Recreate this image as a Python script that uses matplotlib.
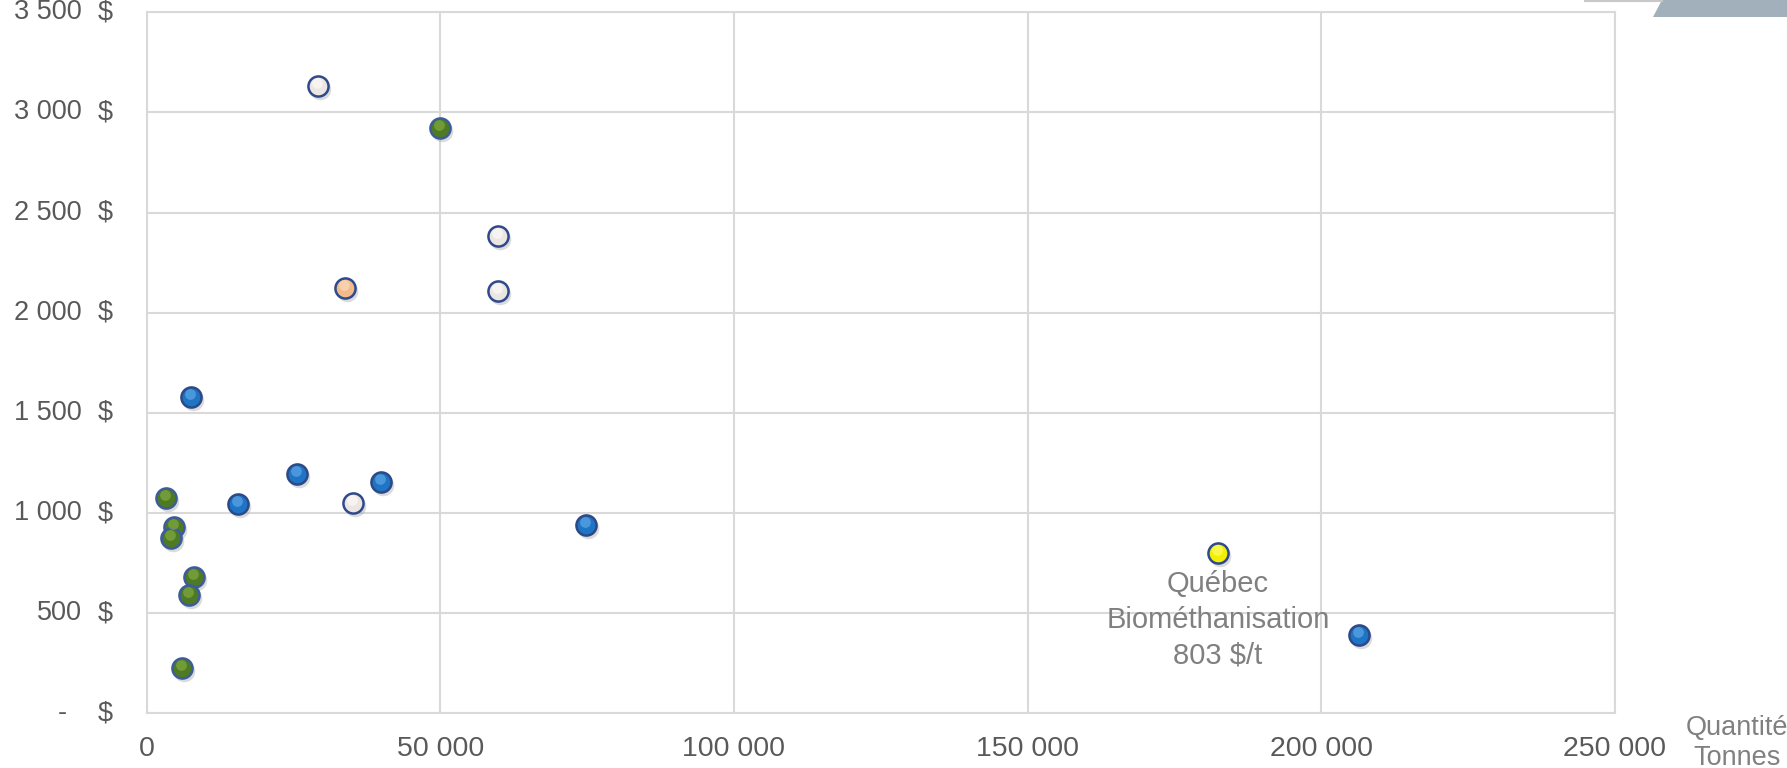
import matplotlib
matplotlib.use("Agg")
import matplotlib.pyplot as plt
from matplotlib.patches import Polygon
from matplotlib.lines import Line2D
from matplotlib.ticker import MultipleLocator, FuncFormatter
from matplotlib.transforms import offset_copy

plt.rcParams['font.family'] = ['Liberation Sans', 'DejaVu Sans']

# quantité (tonnes) / coût ($ par tonne), par groupe de couleur
blue_x = [7600, 25600, 39900, 15500, 74800, 206400]
blue_y = [1580, 1195, 1155, 1047, 939, 393]
green_x = [50000, 3300, 4650, 4100, 8100, 7200, 6000]
green_y = [2920, 1076, 933, 876, 683, 592, 228]
white_x = [29100, 59900, 59900, 35100]
white_y = [3130, 2385, 2108, 1052]
orange_x = [33700]
orange_y = [2122]
quebec_x = [182400]
quebec_y = [803]
quebec_label = "Québec\nBiométhanisation\n803 $/t"

GROUPS = [
    (blue_x, blue_y, "#1f74c6", "#6fb6ee", "#2b4a86"),
    (green_x, green_y, "#4d7a22", "#8fb84a", "#3d5c9c"),
    (white_x, white_y, "#ece6e2", "#ffffff", "#2f4a8c"),
    (orange_x, orange_y, "#f2b98a", "#fde3c8", "#2f4a8c"),
    (quebec_x, quebec_y, "#f2f000", "#ffff88", "#2f4a8c"),
]

fig = plt.figure(figsize=(17.87, 7.68), dpi=100)
ax = fig.add_axes([0.0821, 0.0710, 0.8216, 0.9130])
ax.set_xlim(0, 250000)
ax.set_ylim(0, 3500)
ax.xaxis.set_major_locator(MultipleLocator(50000))
ax.yaxis.set_major_locator(MultipleLocator(500))
ax.grid(color="#d9d9d9", lw=1.5)
ax.set_axisbelow(True)
for s in ax.spines.values():
    s.set_color("#d9d9d9")
    s.set_linewidth(1.5)
ax.tick_params(length=0, labelsize=20.5, labelcolor="#595959", pad=16.5)
ax.xaxis.set_major_formatter(FuncFormatter(lambda v, _: f"{int(v):,}".replace(",", " ")))
ax.tick_params(axis="y", labelleft=False)

# y labels in accounting style: number and "$" in two columns
ytr = ax.get_yaxis_transform()
for v in ax.get_yticks():
    if v < 0 or v > 3500:
        continue
    if v == 0:
        ax.text(0, v, "-", transform=offset_copy(ytr, fig, x=-80, y=0, units="dots"),
                ha="right", va="center", fontsize=19.5, color="#595959")
    else:
        ax.text(0, v, f"{int(v):,}".replace(",", " "),
                transform=offset_copy(ytr, fig, x=-65, y=0, units="dots"),
                ha="right", va="center", fontsize=19.5, color="#595959")
    ax.text(0, v, "$", transform=offset_copy(ytr, fig, x=-34, y=0, units="dots"),
            ha="right", va="center", fontsize=19.5, color="#595959")

# markers with shadow and highlight
shadow_tr = offset_copy(ax.transData, fig, x=2, y=-3, units="dots")
hl_tr = offset_copy(ax.transData, fig, x=-1, y=3, units="dots")
for xs, ys, face, light, edge in GROUPS:
    ax.scatter(xs, ys, s=240, c="#9a9a9a", alpha=0.35, lw=0, transform=shadow_tr, zorder=3)
    ax.scatter(xs, ys, s=210, c=face, edgecolors=edge, linewidths=1.8, zorder=4)
    ax.scatter(xs, ys, s=60, c=light, alpha=0.55, lw=0, transform=hl_tr, zorder=5)

ax.annotate(quebec_label, (quebec_x[0], quebec_y[0]), xytext=(0, -17),
            textcoords="offset pixels", ha="center", va="top",
            fontsize=21, color="#808080", linespacing=1.37)

fig.text(0.972, 0.0326, "Quantité\nTonnes", ha="center", va="center",
         fontsize=19.5, color="#808080", linespacing=1.2)

# slide decoration at top right
fig.patches.append(Polygon([[1653 / 1787, 1 - 17 / 768], [1662 / 1787, 1.0],
                            [1.0, 1.0], [1.0, 1 - 17 / 768]],
                           closed=True, transform=fig.transFigure,
                           facecolor="#a2b0bb", edgecolor="none"))
fig.lines.append(Line2D([1585 / 1787, 1662 / 1787], [0.999, 0.999],
                        transform=fig.transFigure, color="#c8c8c8", lw=1.5))

fig.savefig("out.png", dpi=100)
